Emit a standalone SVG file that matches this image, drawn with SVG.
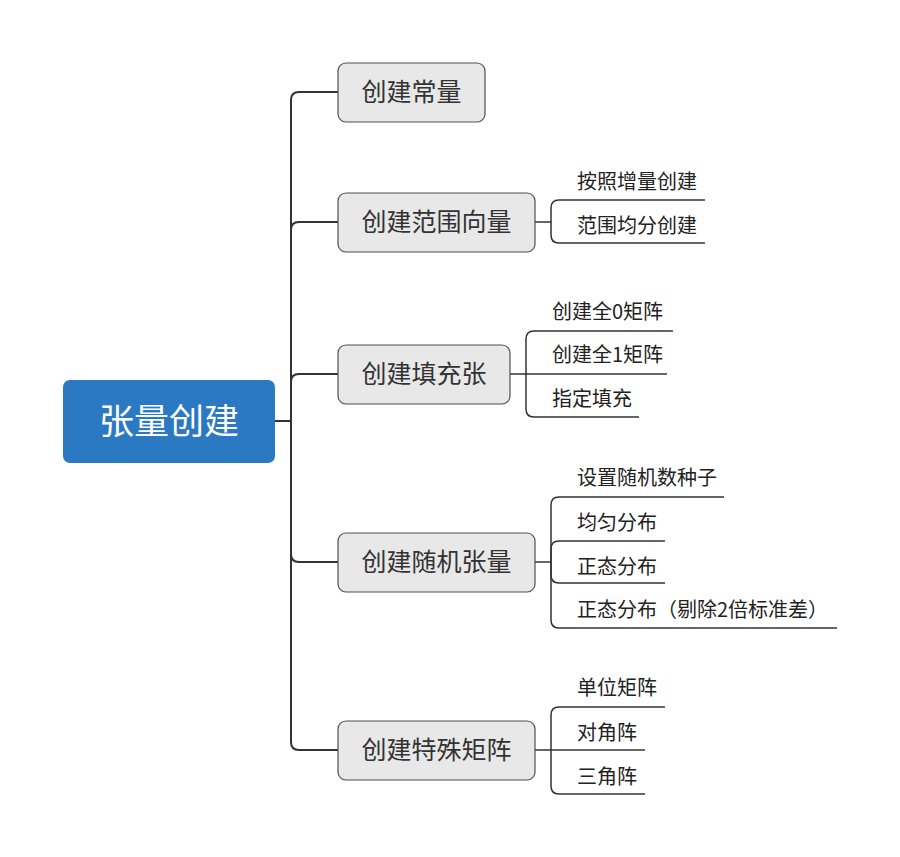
<svg xmlns="http://www.w3.org/2000/svg" width="900" height="857" viewBox="0 0 900 857">
  <style>
    text { font-family: "Noto Sans CJK SC", "Noto Sans", sans-serif; }
    .root-box { fill: #2b78c3; }
    .root-text { fill: #ffffff; font-size: 35px; text-anchor: middle; }
    .topic-box { fill: #e8e8e8; stroke: #505050; stroke-width: 1.2; }
    .topic-text { fill: #333333; font-size: 25px; text-anchor: middle; }
    .sub-text { fill: #222222; font-size: 20px; }
    .trunk { fill: none; stroke: #333333; stroke-width: 2; }
    .branch { fill: none; stroke: #333333; stroke-width: 1.5; }
  </style>

  <rect width="900" height="857" fill="#ffffff"/>

  <!-- connectors -->
  <g id="connectors">
    <!-- root to main topics -->
    <path class="trunk" d="M275,421 H291 V100 Q291,92 299,92 H338"/>
    <path class="trunk" d="M291,421 V230 Q291,222 299,222 H338"/>
    <path class="trunk" d="M291,421 V382 Q291,374 299,374 H338"/>
    <path class="trunk" d="M291,421 V554 Q291,562 299,562 H338"/>
    <path class="trunk" d="M291,421 V742 Q291,750 299,750 H338"/>

    <!-- 创建范围向量 -->
    <path class="branch" d="M535,222 H551 V208 Q551,200 559,200 H705"/>
    <path class="branch" d="M551,222 V235 Q551,243 559,243 H705"/>

    <!-- 创建填充张 -->
    <path class="branch" d="M510,374 H526 V339 Q526,331 534,331 H673"/>
    <path class="branch" d="M526,374 H667"/>
    <path class="branch" d="M526,374 V409 Q526,417 534,417 H639"/>

    <!-- 创建随机张量 -->
    <path class="branch" d="M535,562 H551 V505 Q551,497 559,497 H724"/>
    <path class="branch" d="M551,562 V549 Q551,541 559,541 H665"/>
    <path class="branch" d="M551,562 V575 Q551,583 559,583 H665"/>
    <path class="branch" d="M551,562 V620 Q551,628 559,628 H837"/>

    <!-- 创建特殊矩阵 -->
    <path class="branch" d="M535,750 H551 V715 Q551,707 559,707 H665"/>
    <path class="branch" d="M551,750 H645"/>
    <path class="branch" d="M551,750 V786 Q551,794 559,794 H645"/>
  </g>

  <!-- root -->
  <g id="root">
    <rect class="root-box" x="63" y="380" width="212" height="83" rx="7"/>
    <text class="root-text" x="169" y="434">张量创建</text>
  </g>

  <!-- main topics -->
  <g id="topic-constant">
    <rect class="topic-box" x="338" y="63" width="147" height="59" rx="8"/>
    <text class="topic-text" x="411.5" y="101">创建常量</text>
  </g>
  <g id="topic-range">
    <rect class="topic-box" x="338" y="193" width="197" height="59" rx="8"/>
    <text class="topic-text" x="436.5" y="231">创建范围向量</text>
  </g>
  <g id="topic-fill">
    <rect class="topic-box" x="338" y="345" width="172" height="59" rx="8"/>
    <text class="topic-text" x="424" y="383">创建填充张</text>
  </g>
  <g id="topic-random">
    <rect class="topic-box" x="338" y="533" width="197" height="59" rx="8"/>
    <text class="topic-text" x="436.5" y="571">创建随机张量</text>
  </g>
  <g id="topic-special">
    <rect class="topic-box" x="338" y="721" width="197" height="59" rx="8"/>
    <text class="topic-text" x="436.5" y="759">创建特殊矩阵</text>
  </g>

  <!-- subtopics -->
  <g id="sub-range-step"><text class="sub-text" x="577" y="189">按照增量创建</text></g>
  <g id="sub-range-linspace"><text class="sub-text" x="577" y="233">范围均分创建</text></g>

  <g id="sub-fill-zeros"><text class="sub-text" x="552" y="319">创建全0矩阵</text></g>
  <g id="sub-fill-ones"><text class="sub-text" x="552" y="362">创建全1矩阵</text></g>
  <g id="sub-fill-value"><text class="sub-text" x="552" y="406">指定填充</text></g>

  <g id="sub-random-seed"><text class="sub-text" x="577" y="485">设置随机数种子</text></g>
  <g id="sub-random-uniform"><text class="sub-text" x="577" y="530">均匀分布</text></g>
  <g id="sub-random-normal"><text class="sub-text" x="577" y="574">正态分布</text></g>
  <g id="sub-random-truncated"><text class="sub-text" x="577" y="617">正态分布（剔除2倍标准差）</text></g>

  <g id="sub-special-eye"><text class="sub-text" x="577" y="695">单位矩阵</text></g>
  <g id="sub-special-diag"><text class="sub-text" x="577" y="740">对角阵</text></g>
  <g id="sub-special-tri"><text class="sub-text" x="577" y="784">三角阵</text></g>
</svg>
